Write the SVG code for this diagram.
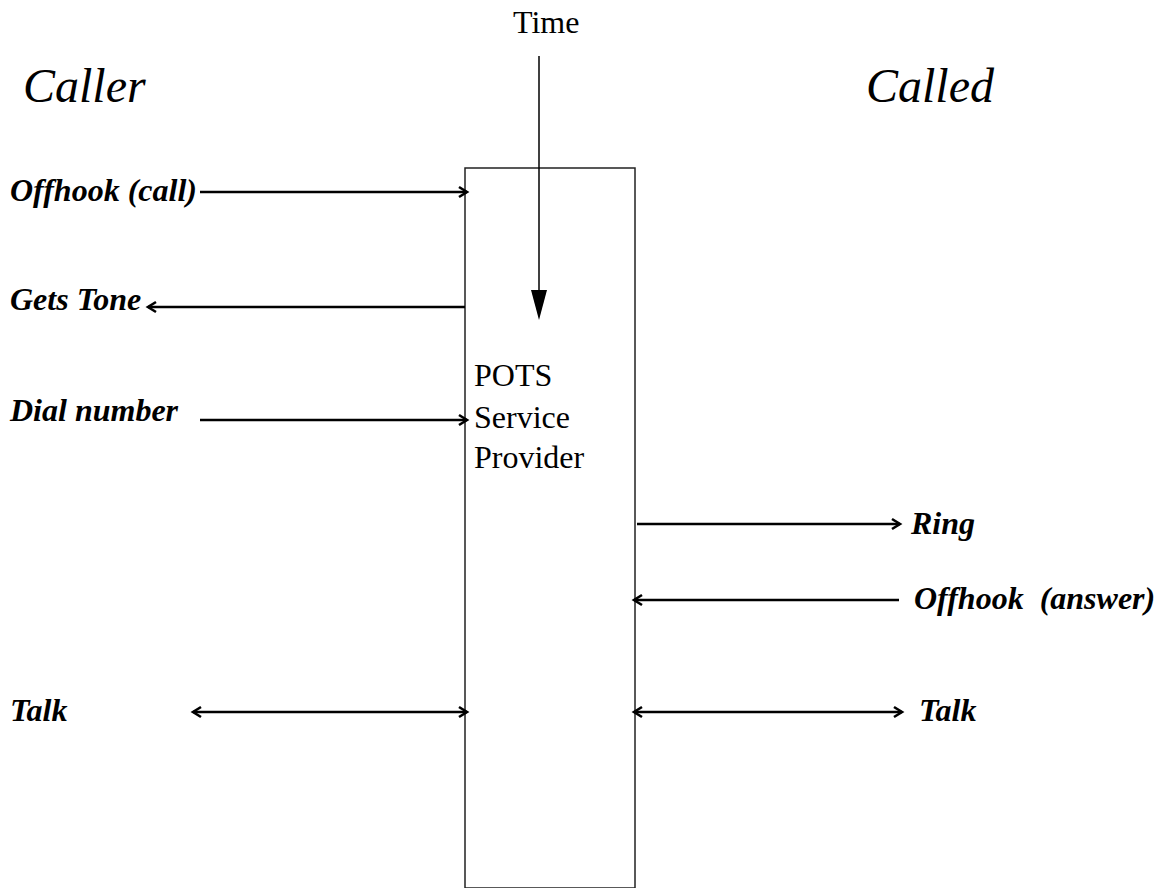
<svg xmlns="http://www.w3.org/2000/svg" width="1162" height="888" viewBox="0 0 1162 888">
<style>
.t{font-family:"Liberation Serif",serif;fill:#000}
.lbl{font-family:"Liberation Serif",serif;font-size:32px;font-weight:bold;font-style:italic;fill:#000}
.ln{stroke:#000;stroke-width:2.5;fill:none}
</style>
<defs>
<marker id="open" markerWidth="14" markerHeight="14" refX="10" refY="7" orient="auto-start-reverse" markerUnits="userSpaceOnUse">
<path d="M2,2 L10,7 L2,12" fill="none" stroke="#000" stroke-width="2.6"/>
</marker>
</defs>
<rect width="1162" height="888" fill="#fff"/>
<g id="caller-title"><text class="t" x="23" y="102" font-size="48" font-style="italic">Caller</text></g>
<g id="called-title"><text class="t" x="866" y="102" font-size="48" font-style="italic">Called</text></g>
<g id="time-label"><text class="t" x="513" y="33" font-size="32">Time</text></g>
<g id="provider">
<rect x="465" y="168" width="170" height="720" fill="none" stroke="#222" stroke-width="1.5"/>
<text class="t" x="474" y="386" font-size="32">POTS</text>
<text class="t" x="474" y="428" font-size="32">Service</text>
<text class="t" x="474" y="468" font-size="32">Provider</text>
</g>
<g id="labels">
<text class="lbl" x="10" y="201">Offhook (call)</text>
<text class="lbl" x="10" y="310">Gets Tone</text>
<text class="lbl" x="10" y="421">Dial number</text>
<text class="lbl" x="10" y="721">Talk</text>
<text class="lbl" x="911" y="534">Ring</text>
<text class="lbl" x="914" y="609" xml:space="preserve">Offhook  (answer)</text>
<text class="lbl" x="919" y="721">Talk</text>
</g>
<g id="connectors">
<line x1="539" y1="56" x2="539" y2="292" stroke="#000" stroke-width="1.5"/>
<polygon points="531,290 547,290 539,320" fill="#000"/>
<line class="ln" x1="200" y1="192" x2="467" y2="192" marker-end="url(#open)"/>
<line class="ln" x1="465" y1="307" x2="148" y2="307" marker-end="url(#open)"/>
<line class="ln" x1="200" y1="420" x2="467" y2="420" marker-end="url(#open)"/>
<line class="ln" x1="193" y1="712" x2="467" y2="712" marker-start="url(#open)" marker-end="url(#open)"/>
<line class="ln" x1="637" y1="524" x2="900" y2="524" marker-end="url(#open)"/>
<line class="ln" x1="899" y1="600" x2="634" y2="600" marker-end="url(#open)"/>
<line class="ln" x1="634" y1="712" x2="902" y2="712" marker-start="url(#open)" marker-end="url(#open)"/>
</g>
</svg>
